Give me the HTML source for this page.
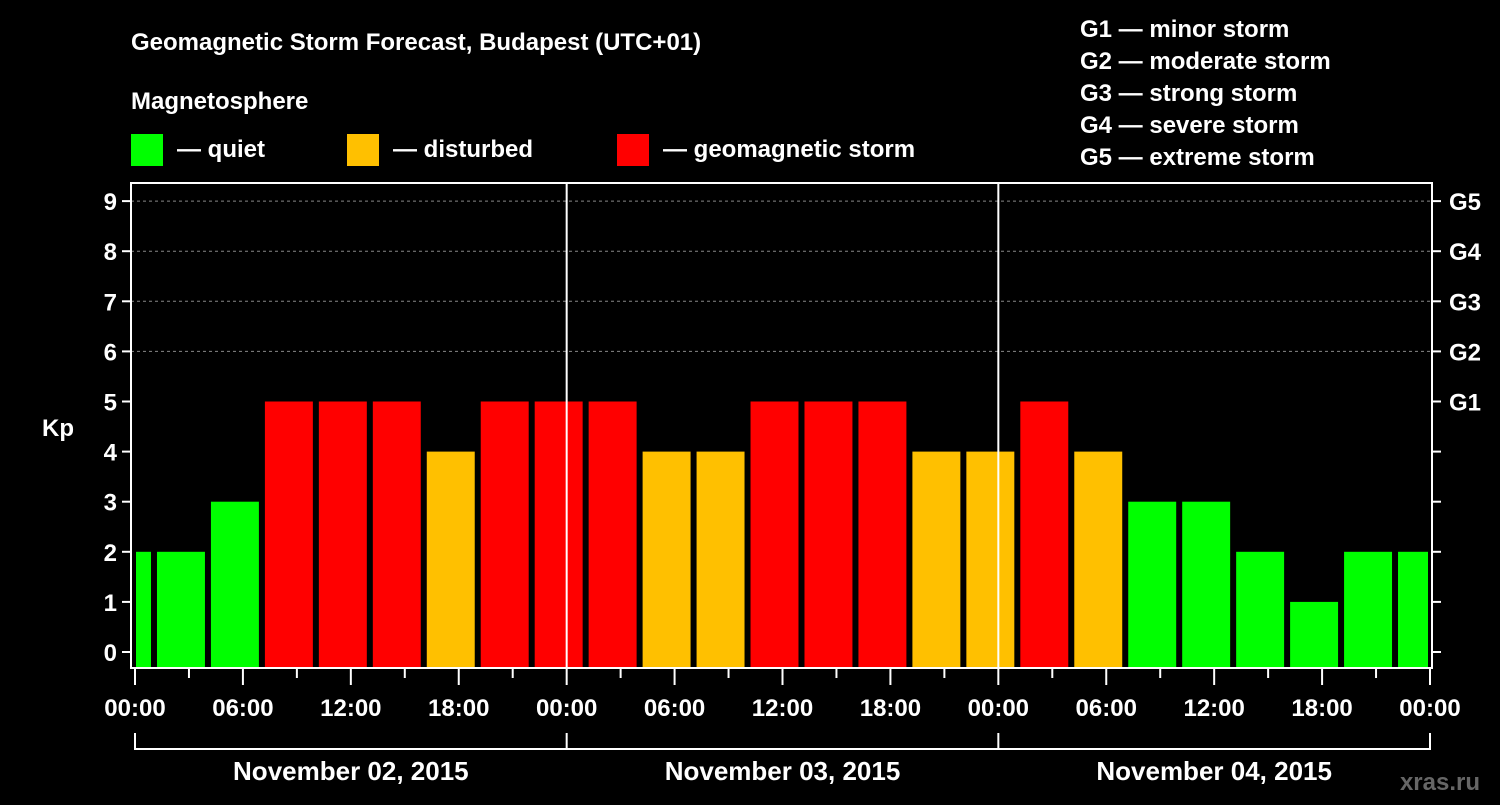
<!DOCTYPE html>
<html><head><meta charset="utf-8"><style>
html,body{margin:0;padding:0;background:#000;}
svg text{font-family:"Liberation Sans",Arial,sans-serif;font-weight:bold;fill:#fff;}
</style></head><body>
<svg id="chart" width="1500" height="800" xmlns="http://www.w3.org/2000/svg">
<rect width="1500" height="800" fill="#000"/>
<text x="131" y="50" font-size="24">Geomagnetic Storm Forecast, Budapest (UTC+01)</text>
<text x="131" y="109" font-size="24">Magnetosphere</text>
<rect x="131" y="134" width="32" height="32" fill="#00ff00"/>
<text x="177" y="157" font-size="24">— quiet</text>
<rect x="347" y="134" width="32" height="32" fill="#ffc000"/>
<text x="393" y="157" font-size="24">— disturbed</text>
<rect x="617" y="134" width="32" height="32" fill="#ff0000"/>
<text x="663" y="157" font-size="24">— geomagnetic storm</text>
<g font-size="24">
<text x="1080" y="37">G1 — minor storm</text>
<text x="1080" y="69">G2 — moderate storm</text>
<text x="1080" y="101">G3 — strong storm</text>
<text x="1080" y="133">G4 — severe storm</text>
<text x="1080" y="165">G5 — extreme storm</text>
</g>
<g id="grid"></g>
<g id="bars"></g>
<g id="axes"></g>
<text x="1480" y="790" font-size="24" text-anchor="end" style="fill:#666">xras.ru</text>
</svg>
<script>
const kpValues=[2,2,3,5,5,5,4,5,5,5,4,4,5,5,5,4,4,5,4,3,3,2,1,2,2];
const blockStartHour=-2;
const yTicks=[0,1,2,3,4,5,6,7,8,9];
const gLabels=["G1","G2","G3","G4","G5"];
const timeLabels=["00:00","06:00","12:00","18:00","00:00","06:00","12:00","18:00","00:00","06:00","12:00","18:00","00:00"];
const dayLabels=["November 02, 2015","November 03, 2015","November 04, 2015"];

const NS="http://www.w3.org/2000/svg";
const L=131,R=1432,T=183,B=668,X0=135,XH=(1430-135)/72,Y0=652,YU=50.1;
const xs=h=>X0+h*XH, ys=v=>Y0-v*YU;
function mk(tag,attrs,parent){const e=document.createElementNS(NS,tag);for(const k in attrs)e.setAttribute(k,attrs[k]);parent.appendChild(e);return e;}
const grid=document.getElementById('grid'),bars=document.getElementById('bars'),axes=document.getElementById('axes');
for(let v=6;v<=9;v++){const l=mk('line',{x1:L,x2:R,y1:ys(v),y2:ys(v),stroke:'#888','stroke-dasharray':'3,3'},grid);

}
kpValues.forEach((v,i)=>{
 let x1=xs(blockStartHour+i*3)+4,x2=xs(blockStartHour+(i+1)*3)-2;
 x1=Math.max(x1,L+5);x2=Math.min(x2,R-4);
 const c=v>=5?'#ff0000':(v>=4?'#ffc000':'#00ff00');
 const r=mk('rect',{x:x1,y:ys(v),width:x2-x1,height:B-ys(v),fill:c},bars);
 
 
});
[1,2].forEach(d=>{const l=mk('line',{x1:xs(d*24),x2:xs(d*24),y1:T,y2:B,stroke:'#fff','stroke-width':2},axes);

});
const f=mk('rect',{x:L,y:T,width:R-L,height:B-T,fill:'none',stroke:'#fff','stroke-width':2},axes);


yTicks.forEach(v=>{
 mk('line',{x1:L-9,x2:L,y1:ys(v),y2:ys(v),stroke:'#fff','stroke-width':2},axes);
 mk('line',{x1:R,x2:R+9,y1:ys(v),y2:ys(v),stroke:'#fff','stroke-width':2},axes);
 const t=mk('text',{x:L-14,y:ys(v)+9,'font-size':24,'text-anchor':'end'},axes);t.textContent=v;
 
 
});
gLabels.forEach((g,i)=>{const t=mk('text',{x:R+17,y:ys(5+i)+9,'font-size':24},axes);t.textContent=g;
 
 });
const kp=mk('text',{x:42,y:436,'font-size':24},axes);kp.textContent='Kp';


for(let h=0;h<=72;h+=3){const long=h%6===0;mk('line',{x1:xs(h),x2:xs(h),y1:B,y2:B+(long?17:10),stroke:'#fff','stroke-width':2},axes);}
timeLabels.forEach((s,i)=>{const t=mk('text',{x:xs(i*6),y:716,'font-size':24,'text-anchor':'middle'},axes);t.textContent=s;
 
 });
mk('line',{x1:xs(0),x2:xs(72),y1:749,y2:749,stroke:'#fff','stroke-width':2},axes);
for(let d=0;d<=3;d++)mk('line',{x1:xs(d*24),x2:xs(d*24),y1:733,y2:750,stroke:'#fff','stroke-width':2},axes);
dayLabels.forEach((s,i)=>{const t=mk('text',{x:xs(i*24+12),y:780,'font-size':26,'text-anchor':'middle'},axes);t.textContent=s;
 
 });
</script>
</body></html>
